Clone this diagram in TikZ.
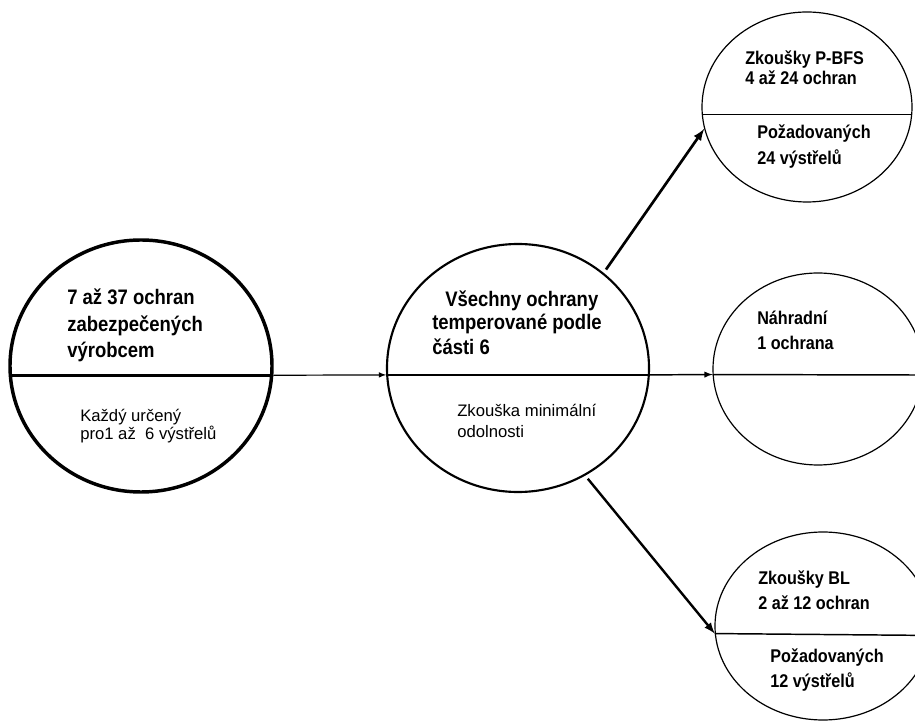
\documentclass[tikz,border=0pt]{standalone}
\usepackage{fontspec}
\setmainfont{Liberation Sans}
\newfontfamily\chartbold[FakeStretch=0.88]{Liberation Sans Bold}
\usepackage{tikz}
\usetikzlibrary{arrows,shapes.geometric}
\tikzset{
  disc/.style={ellipse, draw, inner sep=0pt},
  big arrow/.style={-latex, line width=#1},
  big arrow/.default=1.1pt,
  headtxt/.style n args={2}{font=\chartbold\fontsize{#1}{#2}\selectfont, align=left, inner sep=0pt, anchor=base west},
  bodytxt/.style n args={2}{font=\fontsize{#1}{#2}\selectfont, align=left, inner sep=0pt, anchor=base west},
  }

\begin{document}
\begin{tikzpicture}[x=0.75pt,y=-0.75pt]
            \clip (0,0) rectangle (915,723);

            % Circles
            \node[disc, line width=2.6pt, minimum width=196.5pt, minimum height=189pt] (L) at (141,366) {};
            \node[disc, line width=1.6pt, minimum width=196.5pt, minimum height=186pt] (M) at (518,368) {};
            \node[disc, line width=0.9pt, minimum width=157.5pt, minimum height=142.5pt] (T) at (807,107) {};
            \node[disc, line width=0.9pt, minimum width=157.5pt, minimum height=144pt] (N) at (818,369) {};
            \node[disc, line width=0.9pt, minimum width=162pt, minimum height=141pt] (B) at (823,626) {};
            \coordinate (Nend) at (915,375);

            % Dividers
            \draw[line width=2.4pt] (L.184) -- (L.-4);
            \draw[line width=1.4pt] (M.183) -- (M.-3);
            \draw[line width=1.1pt] (T.184) -- (T.-4);
            \draw[line width=1.1pt] (N.183) -- (Nend);
            \draw[line width=1.1pt] (B.184) -- (B.-5);

            % Arrows
            \draw[big arrow=0.9pt] (L.-4) -- (M.183);
            \draw[big arrow=1.1pt] (M.-3) -- (N.183);
            \draw[big arrow=2pt, shorten <=3pt] (M.48) -- (T.192);
            \draw[big arrow=1.8pt, shorten <=3pt] (M.-58) -- (B.184);

            % Texts (anchored at the baseline of the last line)
            \node[headtxt={15.75}{20}] (Ltop) at (67,358) {7 až 37 ochran\\zabezpečených\\výrobcem};
            \node[bodytxt={12.5}{13.5}] (Lbot) at (80,440) {Každý určený\\pro1 až~ 6 výstřelů};
            \node[headtxt={15.75}{18.75}] (Mtop) at (445,307) {Všechny ochrany};
            \node[headtxt={15.75}{18.75}] (Mtop2) at (432,355) {temperované podle\\části 6};
            \node[bodytxt={12.5}{15.75}] (Mbot) at (457,438) {Zkouška minimální\\odolnosti};
            \node[headtxt={13.8}{15}] (Ttop) at (745,85) {Zkoušky P-BFS\\4 až 24 ochran};
            \node[headtxt={13.8}{20}] (Tbot) at (757,165) {Požadovaných\\24 výstřelů};
            \node[headtxt={13.8}{18.75}] (Ntop) at (757,350) {Náhradní\\1 ochrana};
            \node[headtxt={13.8}{18.75}] (Btop) at (758,610) {Zkoušky BL\\2 až 12 ochran};
            \node[headtxt={13.8}{18.75}] (Bbot) at (770,687) {Požadovaných\\12 výstřelů};
        \end{tikzpicture}
\end{document}
